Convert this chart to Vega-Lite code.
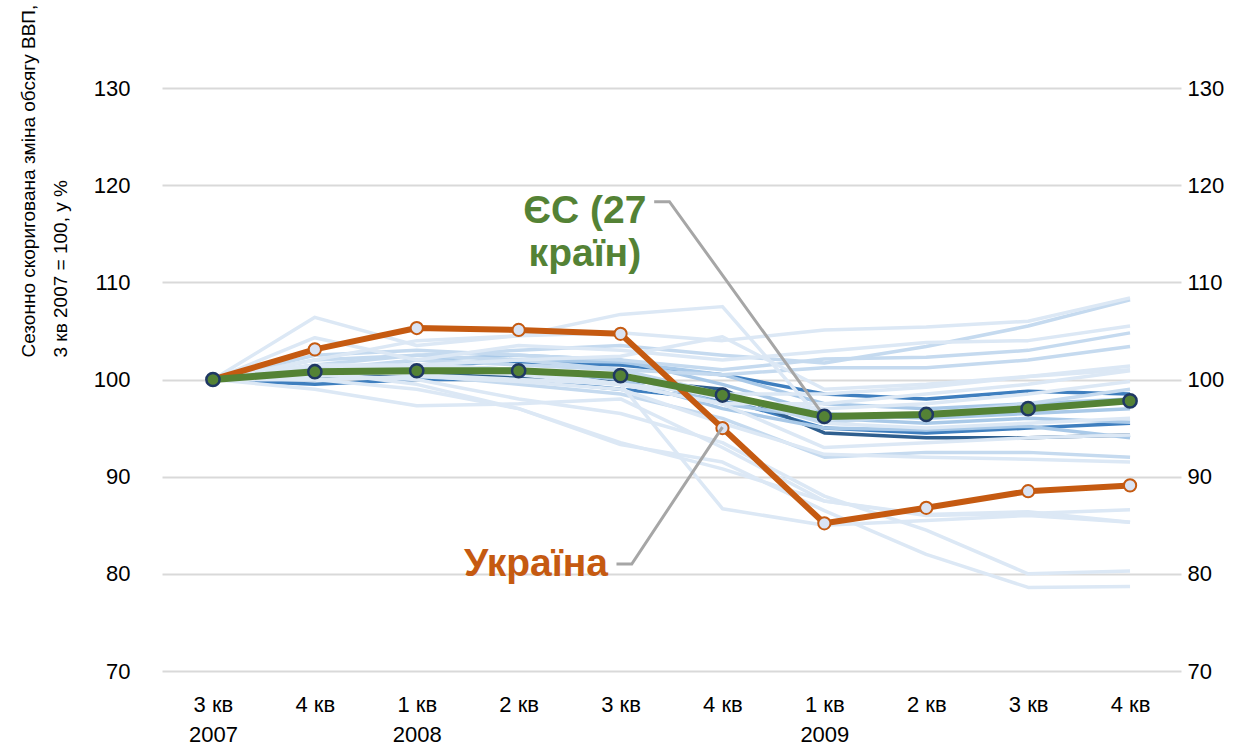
{
  "$schema": "https://vega.github.io/schema/vega-lite/v6.json",
  "width": 1019,
  "height": 583,
  "autosize": "none",
  "padding": {"left": 162, "top": 88, "right": 79, "bottom": 74},
  "background": "white",
  "config": {"view": {"stroke": null}, "font": "Liberation Sans"},
  "datasets": {
    "bg": [
      {"c":"j","s":"d","q":0,"v":100},{"c":"j","s":"d","q":1,"v":100.0},{"c":"j","s":"d","q":2,"v":101.5},{"c":"j","s":"d","q":3,"v":101.8},{"c":"j","s":"d","q":4,"v":101.5},{"c":"j","s":"d","q":5,"v":100.5},{"c":"j","s":"d","q":6,"v":98.5},{"c":"j","s":"d","q":7,"v":98.0},{"c":"j","s":"d","q":8,"v":98.8},{"c":"j","s":"d","q":9,"v":98.5},
      {"c":"k","s":"d","q":0,"v":100},{"c":"k","s":"d","q":1,"v":99.5},{"c":"k","s":"d","q":2,"v":100.0},{"c":"k","s":"d","q":3,"v":100.0},{"c":"k","s":"d","q":4,"v":99.0},{"c":"k","s":"d","q":5,"v":98.0},{"c":"k","s":"d","q":6,"v":95.0},{"c":"k","s":"d","q":7,"v":94.5},{"c":"k","s":"d","q":8,"v":95.0},{"c":"k","s":"d","q":9,"v":95.5},
      {"c":"l","s":"dd","q":0,"v":100},{"c":"l","s":"dd","q":1,"v":100.2},{"c":"l","s":"dd","q":2,"v":100.5},{"c":"l","s":"dd","q":3,"v":100.3},{"c":"l","s":"dd","q":4,"v":100.0},{"c":"l","s":"dd","q":5,"v":99.0},{"c":"l","s":"dd","q":6,"v":94.5},{"c":"l","s":"dd","q":7,"v":94.0},{"c":"l","s":"dd","q":8,"v":94.0},{"c":"l","s":"dd","q":9,"v":94.3},
      {"c":"m","s":"m","q":0,"v":100},{"c":"m","s":"m","q":1,"v":100.5},{"c":"m","s":"m","q":2,"v":100.8},{"c":"m","s":"m","q":3,"v":101.0},{"c":"m","s":"m","q":4,"v":100.5},{"c":"m","s":"m","q":5,"v":97.5},{"c":"m","s":"m","q":6,"v":96.0},{"c":"m","s":"m","q":7,"v":95.5},{"c":"m","s":"m","q":8,"v":96.0},{"c":"m","s":"m","q":9,"v":95.6},
      {"c":"n","s":"m","q":0,"v":100},{"c":"n","s":"m","q":1,"v":101.0},{"c":"n","s":"m","q":2,"v":101.5},{"c":"n","s":"m","q":3,"v":101.0},{"c":"n","s":"m","q":4,"v":100.0},{"c":"n","s":"m","q":5,"v":97.0},{"c":"n","s":"m","q":6,"v":95.0},{"c":"n","s":"m","q":7,"v":94.8},{"c":"n","s":"m","q":8,"v":95.2},{"c":"n","s":"m","q":9,"v":94.0},
      {"c":"o","s":"m","q":0,"v":100},{"c":"o","s":"m","q":1,"v":100.8},{"c":"o","s":"m","q":2,"v":102.0},{"c":"o","s":"m","q":3,"v":102.5},{"c":"o","s":"m","q":4,"v":102.0},{"c":"o","s":"m","q":5,"v":99.5},{"c":"o","s":"m","q":6,"v":96.5},{"c":"o","s":"m","q":7,"v":96.0},{"c":"o","s":"m","q":8,"v":96.5},{"c":"o","s":"m","q":9,"v":97.0},
      {"c":"z","s":"m","q":0,"v":100},{"c":"z","s":"m","q":1,"v":100.5},{"c":"z","s":"m","q":2,"v":101.5},{"c":"z","s":"m","q":3,"v":102.0},{"c":"z","s":"m","q":4,"v":101.8},{"c":"z","s":"m","q":5,"v":100.5},{"c":"z","s":"m","q":6,"v":97.5},{"c":"z","s":"m","q":7,"v":97.0},{"c":"z","s":"m","q":8,"v":97.5},{"c":"z","s":"m","q":9,"v":98.0},
      {"c":"c","s":"l2","q":0,"v":100},{"c":"c","s":"l2","q":1,"v":101.5},{"c":"c","s":"l2","q":2,"v":102.5},{"c":"c","s":"l2","q":3,"v":103.0},{"c":"c","s":"l2","q":4,"v":103.5},{"c":"c","s":"l2","q":5,"v":102.5},{"c":"c","s":"l2","q":6,"v":101.7},{"c":"c","s":"l2","q":7,"v":103.4},{"c":"c","s":"l2","q":8,"v":105.5},{"c":"c","s":"l2","q":9,"v":108.2},
      {"c":"e","s":"l2","q":0,"v":100},{"c":"e","s":"l2","q":1,"v":102.5},{"c":"e","s":"l2","q":2,"v":103.0},{"c":"e","s":"l2","q":3,"v":102.5},{"c":"e","s":"l2","q":4,"v":102.0},{"c":"e","s":"l2","q":5,"v":101.0},{"c":"e","s":"l2","q":6,"v":102.1},{"c":"e","s":"l2","q":7,"v":102.3},{"c":"e","s":"l2","q":8,"v":103.0},{"c":"e","s":"l2","q":9,"v":104.8},
      {"c":"f","s":"l2","q":0,"v":100},{"c":"f","s":"l2","q":1,"v":101.0},{"c":"f","s":"l2","q":2,"v":102.0},{"c":"f","s":"l2","q":3,"v":101.5},{"c":"f","s":"l2","q":4,"v":101.0},{"c":"f","s":"l2","q":5,"v":100.5},{"c":"f","s":"l2","q":6,"v":101.2},{"c":"f","s":"l2","q":7,"v":101.2},{"c":"f","s":"l2","q":8,"v":102.0},{"c":"f","s":"l2","q":9,"v":103.4},
      {"c":"q","s":"l2","q":0,"v":100},{"c":"q","s":"l2","q":1,"v":101.2},{"c":"q","s":"l2","q":2,"v":100.5},{"c":"q","s":"l2","q":3,"v":99.5},{"c":"q","s":"l2","q":4,"v":98.5},{"c":"q","s":"l2","q":5,"v":96.0},{"c":"q","s":"l2","q":6,"v":92.0},{"c":"q","s":"l2","q":7,"v":92.5},{"c":"q","s":"l2","q":8,"v":92.5},{"c":"q","s":"l2","q":9,"v":92.0},
      {"c":"s","s":"l2","q":0,"v":100},{"c":"s","s":"l2","q":1,"v":102.0},{"c":"s","s":"l2","q":2,"v":102.5},{"c":"s","s":"l2","q":3,"v":102.0},{"c":"s","s":"l2","q":4,"v":101.0},{"c":"s","s":"l2","q":5,"v":98.5},{"c":"s","s":"l2","q":6,"v":95.5},{"c":"s","s":"l2","q":7,"v":96.5},{"c":"s","s":"l2","q":8,"v":97.5},{"c":"s","s":"l2","q":9,"v":99.0},
      {"c":"a","s":"l1","q":0,"v":100},{"c":"a","s":"l1","q":1,"v":106.4},{"c":"a","s":"l1","q":2,"v":103.5},{"c":"a","s":"l1","q":3,"v":104.5},{"c":"a","s":"l1","q":4,"v":106.7},{"c":"a","s":"l1","q":5,"v":107.5},{"c":"a","s":"l1","q":6,"v":95.5},{"c":"a","s":"l1","q":7,"v":95.0},{"c":"a","s":"l1","q":8,"v":95.5},{"c":"a","s":"l1","q":9,"v":96.0},
      {"c":"b","s":"l1","q":0,"v":100},{"c":"b","s":"l1","q":1,"v":102.0},{"c":"b","s":"l1","q":2,"v":104.0},{"c":"b","s":"l1","q":3,"v":104.5},{"c":"b","s":"l1","q":4,"v":104.8},{"c":"b","s":"l1","q":5,"v":104.0},{"c":"b","s":"l1","q":6,"v":105.1},{"c":"b","s":"l1","q":7,"v":105.4},{"c":"b","s":"l1","q":8,"v":106.0},{"c":"b","s":"l1","q":9,"v":108.4},
      {"c":"d","s":"l1","q":0,"v":100},{"c":"d","s":"l1","q":1,"v":104.3},{"c":"d","s":"l1","q":2,"v":102.0},{"c":"d","s":"l1","q":3,"v":103.5},{"c":"d","s":"l1","q":4,"v":103.0},{"c":"d","s":"l1","q":5,"v":102.0},{"c":"d","s":"l1","q":6,"v":102.9},{"c":"d","s":"l1","q":7,"v":103.8},{"c":"d","s":"l1","q":8,"v":104.0},{"c":"d","s":"l1","q":9,"v":105.5},
      {"c":"g","s":"l1","q":0,"v":100},{"c":"g","s":"l1","q":1,"v":101.5},{"c":"g","s":"l1","q":2,"v":101.5},{"c":"g","s":"l1","q":3,"v":102.0},{"c":"g","s":"l1","q":4,"v":102.4},{"c":"g","s":"l1","q":5,"v":104.4},{"c":"g","s":"l1","q":6,"v":99.0},{"c":"g","s":"l1","q":7,"v":99.5},{"c":"g","s":"l1","q":8,"v":100.3},{"c":"g","s":"l1","q":9,"v":101.0},
      {"c":"h","s":"l1","q":0,"v":100},{"c":"h","s":"l1","q":1,"v":100.5},{"c":"h","s":"l1","q":2,"v":101.0},{"c":"h","s":"l1","q":3,"v":100.5},{"c":"h","s":"l1","q":4,"v":99.5},{"c":"h","s":"l1","q":5,"v":98.5},{"c":"h","s":"l1","q":6,"v":98.5},{"c":"h","s":"l1","q":7,"v":99.2},{"c":"h","s":"l1","q":8,"v":100.3},{"c":"h","s":"l1","q":9,"v":101.4},
      {"c":"i","s":"l1","q":0,"v":100},{"c":"i","s":"l1","q":1,"v":101.0},{"c":"i","s":"l1","q":2,"v":100.5},{"c":"i","s":"l1","q":3,"v":100.0},{"c":"i","s":"l1","q":4,"v":99.5},{"c":"i","s":"l1","q":5,"v":97.5},{"c":"i","s":"l1","q":6,"v":97.5},{"c":"i","s":"l1","q":7,"v":98.5},{"c":"i","s":"l1","q":8,"v":99.5},{"c":"i","s":"l1","q":9,"v":100.9},
      {"c":"p","s":"l1","q":0,"v":100},{"c":"p","s":"l1","q":1,"v":100.3},{"c":"p","s":"l1","q":2,"v":101.2},{"c":"p","s":"l1","q":3,"v":100.8},{"c":"p","s":"l1","q":4,"v":99.5},{"c":"p","s":"l1","q":5,"v":97.5},{"c":"p","s":"l1","q":6,"v":93.0},{"c":"p","s":"l1","q":7,"v":93.5},{"c":"p","s":"l1","q":8,"v":94.0},{"c":"p","s":"l1","q":9,"v":94.3},
      {"c":"r","s":"l1","q":0,"v":100},{"c":"r","s":"l1","q":1,"v":100.0},{"c":"r","s":"l1","q":2,"v":100.3},{"c":"r","s":"l1","q":3,"v":99.8},{"c":"r","s":"l1","q":4,"v":99.0},{"c":"r","s":"l1","q":5,"v":95.5},{"c":"r","s":"l1","q":6,"v":92.3},{"c":"r","s":"l1","q":7,"v":92.0},{"c":"r","s":"l1","q":8,"v":91.8},{"c":"r","s":"l1","q":9,"v":91.5},
      {"c":"t","s":"l1","q":0,"v":100},{"c":"t","s":"l1","q":1,"v":101.5},{"c":"t","s":"l1","q":2,"v":101.0},{"c":"t","s":"l1","q":3,"v":101.0},{"c":"t","s":"l1","q":4,"v":100.5},{"c":"t","s":"l1","q":5,"v":98.0},{"c":"t","s":"l1","q":6,"v":97.0},{"c":"t","s":"l1","q":7,"v":97.5},{"c":"t","s":"l1","q":8,"v":98.5},{"c":"t","s":"l1","q":9,"v":99.8},
      {"c":"u","s":"l1","q":0,"v":100},{"c":"u","s":"l1","q":1,"v":99.0},{"c":"u","s":"l1","q":2,"v":97.3},{"c":"u","s":"l1","q":3,"v":97.5},{"c":"u","s":"l1","q":4,"v":98.0},{"c":"u","s":"l1","q":5,"v":93.0},{"c":"u","s":"l1","q":6,"v":87.5},{"c":"u","s":"l1","q":7,"v":86.1},{"c":"u","s":"l1","q":8,"v":86.4},{"c":"u","s":"l1","q":9,"v":85.3},
      {"c":"v","s":"l1","q":0,"v":100},{"c":"v","s":"l1","q":1,"v":100.5},{"c":"v","s":"l1","q":2,"v":100.0},{"c":"v","s":"l1","q":3,"v":98.0},{"c":"v","s":"l1","q":4,"v":96.5},{"c":"v","s":"l1","q":5,"v":93.5},{"c":"v","s":"l1","q":6,"v":88.0},{"c":"v","s":"l1","q":7,"v":84.5},{"c":"v","s":"l1","q":8,"v":80.0},{"c":"v","s":"l1","q":9,"v":80.3},
      {"c":"w","s":"l1","q":0,"v":100},{"c":"w","s":"l1","q":1,"v":100.0},{"c":"w","s":"l1","q":2,"v":99.0},{"c":"w","s":"l1","q":3,"v":97.0},{"c":"w","s":"l1","q":4,"v":93.3},{"c":"w","s":"l1","q":5,"v":91.5},{"c":"w","s":"l1","q":6,"v":86.5},{"c":"w","s":"l1","q":7,"v":82.0},{"c":"w","s":"l1","q":8,"v":78.6},{"c":"w","s":"l1","q":9,"v":78.7},
      {"c":"x","s":"l1","q":0,"v":100},{"c":"x","s":"l1","q":1,"v":101.0},{"c":"x","s":"l1","q":2,"v":101.5},{"c":"x","s":"l1","q":3,"v":101.0},{"c":"x","s":"l1","q":4,"v":99.5},{"c":"x","s":"l1","q":5,"v":86.7},{"c":"x","s":"l1","q":6,"v":85.0},{"c":"x","s":"l1","q":7,"v":85.5},{"c":"x","s":"l1","q":8,"v":86.0},{"c":"x","s":"l1","q":9,"v":85.3},
      {"c":"y","s":"l1","q":0,"v":100},{"c":"y","s":"l1","q":1,"v":100.8},{"c":"y","s":"l1","q":2,"v":99.5},{"c":"y","s":"l1","q":3,"v":97.0},{"c":"y","s":"l1","q":4,"v":93.5},{"c":"y","s":"l1","q":5,"v":90.8},{"c":"y","s":"l1","q":6,"v":87.5},{"c":"y","s":"l1","q":7,"v":86.0},{"c":"y","s":"l1","q":8,"v":86.2},{"c":"y","s":"l1","q":9,"v":86.6}
    ],
    "ua": [
      {"q":0,"v":100},{"q":1,"v":103.1},{"q":2,"v":105.3},{"q":3,"v":105.1},{"q":4,"v":104.7},{"q":5,"v":95.0},{"q":6,"v":85.2},{"q":7,"v":86.8},{"q":8,"v":88.5},{"q":9,"v":89.1}
    ],
    "eu": [
      {"q":0,"v":100},{"q":1,"v":100.8},{"q":2,"v":100.9},{"q":3,"v":100.9},{"q":4,"v":100.4},{"q":5,"v":98.4},{"q":6,"v":96.2},{"q":7,"v":96.4},{"q":8,"v":97.0},{"q":9,"v":97.8}
    ],
    "leaders": [
      {"g":"eu","o":1,"x":4.33,"y":118.3},{"g":"eu","o":2,"x":4.48,"y":118.3},{"g":"eu","o":3,"x":5.98,"y":96.5},
      {"g":"ua","o":1,"x":3.96,"y":81.0},{"g":"ua","o":2,"x":4.11,"y":81.0},{"g":"ua","o":3,"x":5.0,"y":95.1}
    ],
    "labelEU": [
      {"t":"ЄС (27\nкраїн)","x":3.65,"y":117.3}
    ],
    "labelUA": [
      {"t":"Україна","x":3.17,"y":81.0}
    ]
  },
  "resolve": {"axis": {"y": "independent"}},
  "layer": [
    {
      "data": {"name": "bg"},
      "mark": {"type": "line", "strokeWidth": 3.5, "strokeJoin": "round"},
      "encoding": {
        "x": {"field": "q", "type": "quantitative", "scale": {"domain": [-0.5, 9.5], "nice": false, "zero": false},
          "axis": {"values": [0,1,2,3,4,5,6,7,8,9], "title": null, "grid": false, "domain": false, "ticks": false,
            "labelFontSize": 22, "labelColor": "#000000", "labelPadding": 23, "labelLineHeight": 30, "labelBaseline": "top",
            "labelExpr": "[['3 кв','2007'],'4 кв',['1 кв','2008'],'2 кв','3 кв','4 кв',['1 кв','2009'],'2 кв','3 кв','4 кв'][datum.value]"}},
        "y": {"field": "v", "type": "quantitative", "scale": {"domain": [70, 130], "nice": false, "zero": false},
          "axis": {"orient": "left", "values": [70,80,90,100,110,120,130], "grid": true, "gridColor": "#d9d9d9", "gridWidth": 2,
            "domain": false, "ticks": false, "labelFontSize": 22, "labelColor": "#000000", "labelPadding": 32,
            "title": ["Сезонно скоригована зміна обсягу ВВП,", "3 кв 2007 = 100, у %"],
            "titleFont": "Liberation Sans",
            "titleFontSize": 19, "titleFontWeight": "normal", "titleColor": "#000000", "titleAngle": -90,
            "titleAlign": "left", "titleBaseline": "top", "titleLineHeight": 32, "titleX": -143, "titleY": 269}},
        "detail": {"field": "c"},
        "color": {"field": "s", "type": "nominal", "legend": null,
          "scale": {"domain": ["dd", "d", "m", "l2", "l1"], "range": ["#2f5f8f", "#3f7fbf", "#a9c9e8", "#c5daef", "#dce8f5"]}}
      }
    },
    {
      "data": {"name": "ua"},
      "mark": {"type": "line", "color": "#c55a11", "strokeWidth": 6, "strokeJoin": "round"},
      "encoding": {
        "x": {"field": "q", "type": "quantitative"},
        "y": {"field": "v", "type": "quantitative", "axis": null}
      }
    },
    {
      "data": {"name": "ua"},
      "mark": {"type": "point", "filled": true, "fill": "#dae3f3", "stroke": "#c55a11", "strokeWidth": 2, "size": 150, "opacity": 1},
      "encoding": {
        "x": {"field": "q", "type": "quantitative"},
        "y": {"field": "v", "type": "quantitative", "axis": null}
      }
    },
    {
      "data": {"name": "eu"},
      "mark": {"type": "line", "color": "#548235", "strokeWidth": 7, "strokeJoin": "round"},
      "encoding": {
        "x": {"field": "q", "type": "quantitative"},
        "y": {"field": "v", "type": "quantitative", "axis": null}
      }
    },
    {
      "data": {"name": "leaders"},
      "mark": {"type": "line", "color": "#a6a6a6", "strokeWidth": 3},
      "encoding": {
        "x": {"field": "x", "type": "quantitative"},
        "y": {"field": "y", "type": "quantitative", "axis": null},
        "detail": {"field": "g"},
        "order": {"field": "o"}
      }
    },
    {
      "data": {"name": "eu"},
      "mark": {"type": "point", "filled": true, "fill": "#548235", "stroke": "#1f3864", "strokeWidth": 2.5, "size": 175, "opacity": 1},
      "encoding": {
        "x": {"field": "q", "type": "quantitative"},
        "y": {"field": "v", "type": "quantitative",
          "axis": {"orient": "right", "values": [70,80,90,100,110,120,130], "grid": false, "domain": false, "ticks": false,
            "labelFontSize": 22, "labelColor": "#000000", "labelPadding": 6, "title": null}}
      }
    },
    {
      "data": {"name": "labelEU"},
      "mark": {"type": "text", "fontSize": 39, "fontWeight": "bold", "align": "center", "baseline": "middle", "lineBreak": "\n", "lineHeight": 43, "color": "#548235"},
      "encoding": {
        "x": {"field": "x", "type": "quantitative"},
        "y": {"field": "y", "type": "quantitative", "axis": null},
        "text": {"field": "t"}
      }
    },
    {
      "data": {"name": "labelUA"},
      "mark": {"type": "text", "fontSize": 39, "fontWeight": "bold", "align": "center", "baseline": "middle", "color": "#c55a11"},
      "encoding": {
        "x": {"field": "x", "type": "quantitative"},
        "y": {"field": "y", "type": "quantitative", "axis": null},
        "text": {"field": "t"}
      }
    }
  ]
}
